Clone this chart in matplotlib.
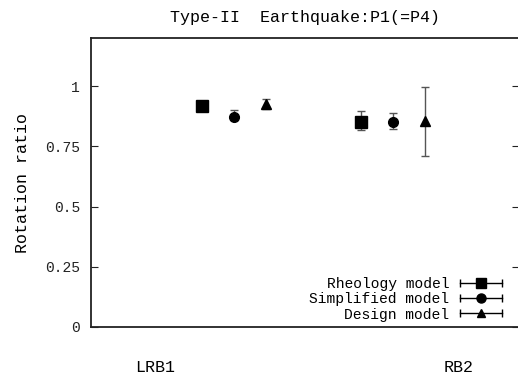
import matplotlib
matplotlib.use("Agg")
import matplotlib.pyplot as plt
import numpy as np
from matplotlib.lines import Line2D
from matplotlib.legend_handler import HandlerBase

plt.rcParams['font.family'] = ['Liberation Mono', 'DejaVu Sans Mono']

categories = ['LRB1', 'RB2']
series = ['Rheology model', 'Simplified model', 'Design model']
markers = ['s', 'o', '^']
values = {
    'Rheology model':   [0.917, 0.852],
    'Simplified model': [0.874, 0.852],
    'Design model':     [0.927, 0.857],
}
err_low = {
    'Rheology model':   [0.912, 0.817],
    'Simplified model': [0.860, 0.822],
    'Design model':     [0.907, 0.711],
}
err_high = {
    'Rheology model':   [0.922, 0.896],
    'Simplified model': [0.903, 0.890],
    'Design model':     [0.949, 0.997],
}
yticks = [0, 0.25, 0.5, 0.75, 1]
ytick_labels = ['0', '0.25', '0.5', '0.75', '1']

fig = plt.figure(figsize=(5.18, 3.74), dpi=100)
ax = fig.add_axes([91/518, 47.3/374, 428/518, 288.4/374])

group_pos = np.array([1.0, 2.0])
offsets = [-0.2, 0.0, 0.2]
msizes = [8, 7, 7]
for s, m, off, ms in zip(series, markers, offsets, msizes):
    v = np.array(values[s])
    lo = v - np.array(err_low[s])
    hi = np.array(err_high[s]) - v
    ax.errorbar(group_pos + off, v, yerr=[lo, hi], fmt=m, color='black',
                ms=ms, ecolor='#555555', elinewidth=1.0, capsize=2.8, capthick=1.0)

ax.set_xlim(0.1, 2.79)
ax.set_ylim(0, 1.2)
ax.set_yticks(yticks)
ax.set_yticklabels(ytick_labels, fontsize=10.5)
ax.tick_params(axis='y', direction='in', length=5, width=0.8, pad=8, right=True, colors='#222222')
ax.set_xticks([0.5, 2.41])
ax.set_xticklabels(categories, fontsize=12)
ax.tick_params(axis='x', length=0, pad=24)
for sp in ['left', 'bottom', 'top']:
    ax.spines[sp].set_linewidth(1.3)
    ax.spines[sp].set_color('#222222')
ax.spines['right'].set_visible(False)

ax.set_ylabel('Rotation ratio', fontsize=12)
ax.yaxis.set_label_coords(-0.143, 0.5)
ax.set_title('Type-II  Earthquake:P1(=P4)', fontsize=12, pad=12)


class HandlerHErr(HandlerBase):
    def create_artists(self, legend, orig_handle, xdescent, ydescent,
                       width, height, fontsize, trans):
        y = height / 2 - ydescent
        x0, x1 = -xdescent, width - xdescent
        line = Line2D([x0, x1], [y, y], color='black', lw=1.0)
        caps = Line2D([x0, x1], [y, y], ls='none', marker='|', ms=6,
                      mew=1.0, color='black')
        mk = Line2D([(x0 + x1) / 2], [y], ls='none', marker=orig_handle.get_marker(),
                    ms=orig_handle.get_markersize(), color='black')
        for a in (line, caps, mk):
            a.set_transform(trans)
        return [line, caps, mk]


legend_ms = [7, 6.5, 6]
handles = [Line2D([], [], marker=m, ms=ms, color='black', ls='none')
           for m, ms in zip(markers, legend_ms)]
leg = ax.legend(handles, series, loc='lower right', bbox_to_anchor=(0.960, 0.018),
                frameon=False, markerfirst=False, fontsize=10.5,
                handlelength=2.9, handletextpad=0.7, labelspacing=0.07,
                borderpad=0, borderaxespad=0,
                handler_map={Line2D: HandlerHErr()})

fig.savefig('out.png', dpi=100)
